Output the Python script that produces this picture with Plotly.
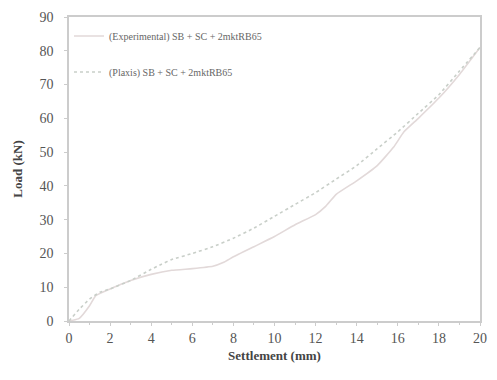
import plotly.graph_objects as go

# Data
exp_x = [0, 0.5, 1.0, 1.3, 2, 3, 4, 5, 6, 7, 7.5, 8, 9, 10, 11, 12, 12.5, 13, 14, 15, 15.8, 16.3, 17, 18, 19, 20]
exp_y = [0, 0.8, 4.5, 7.5, 9.5, 12, 13.8, 15, 15.5, 16.2, 17.3, 19, 22, 25, 28.5, 31.5, 34, 37.5, 41.5, 46, 51.5, 56, 60, 66, 73, 81]

plx_x = [0, 0.5, 1, 1.5, 2, 3, 4, 4.5, 5, 6, 7, 8, 9, 10, 11, 12, 13, 14, 15, 16, 17, 18, 19, 20]
plx_y = [0, 3.5, 6.5, 8.5, 9.5, 12, 15.3, 16.8, 18.2, 20, 22, 24.5, 27.5, 31, 34.5, 38, 42, 46, 51, 56, 61.5, 67, 74, 81]

names = ["(Experimental) SB + SC + 2mktRB65", "(Plaxis) SB + SC + 2mktRB65"]
x_ticks = list(range(0, 21, 2))
y_ticks = list(range(0, 91, 10))

serif = "Liberation Serif"

fig = go.Figure()
fig.add_trace(go.Scatter(x=exp_x, y=exp_y, mode="lines", name=names[0], legendgroup="a",
                         line=dict(color="#e2d9d9", width=1.6, shape="spline", smoothing=0.4)))
fig.add_trace(go.Scatter(x=plx_x, y=plx_y, mode="lines", name=names[1], legendgroup="b",
                         line=dict(color="#c9cfc9", width=1.6, dash="dot", shape="spline", smoothing=0.4)))

fig.update_layout(
    width=497, height=380,
    margin=dict(l=69, r=10, t=15, b=59),
    paper_bgcolor="white", plot_bgcolor="white",
    font=dict(family=serif, size=12, color="#444"),
    showlegend=True,
    legend=dict(x=0.0, y=0.985, xanchor="left", yanchor="top",
                bgcolor="rgba(0,0,0,0)", font=dict(family=serif, size=10, color="#666"),
                tracegroupgap=17, itemwidth=30),
)
fig.update_xaxes(
    range=[0, 20], tickvals=x_ticks, ticktext=[str(v) for v in x_ticks],
    showgrid=False, zeroline=False, showline=True, linecolor="#cccccc", linewidth=1.5,
    mirror=True, ticks="outside", ticklen=3, tickcolor="#cccccc",
    minor=dict(dtick=1, ticks="outside", ticklen=2, tickcolor="#cccccc"),
    tickfont=dict(family=serif, size=14, color="#555"),
    title=dict(text="<b>Settlement (mm)</b>", font=dict(family=serif, size=13, color="#444"), standoff=6),
)
fig.update_yaxes(
    range=[0, 90], tickvals=y_ticks, ticktext=[str(v) for v in y_ticks],
    showgrid=False, zeroline=False, showline=True, linecolor="#cccccc", linewidth=1.5,
    mirror=True, ticks="outside", ticklen=3, tickcolor="#cccccc",
    ticklabelstandoff=8,
    tickfont=dict(family=serif, size=14, color="#555"),
    title=dict(text="<b>Load (kN)</b>", font=dict(family=serif, size=13, color="#444"), standoff=14),
)

fig.write_html("out.html")
